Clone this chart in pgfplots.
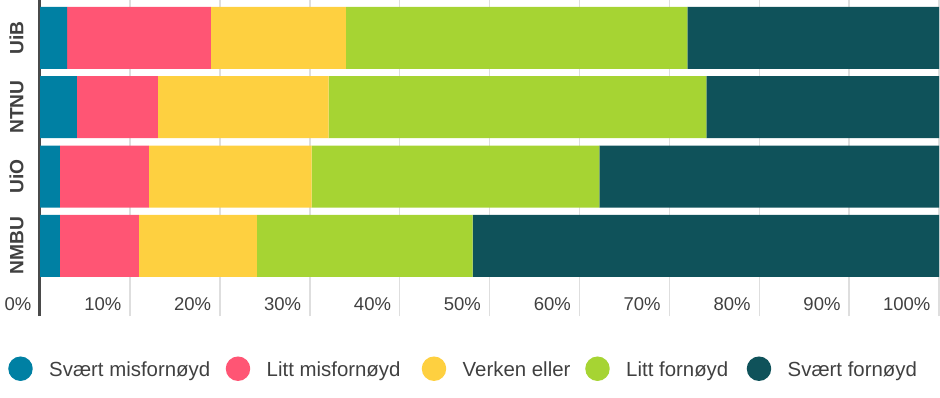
\documentclass[border=0pt]{standalone}
\usepackage{pgfplots}
\pgfplotsset{compat=1.18}
\usepackage{fontspec}
\setmainfont{Liberation Sans}
\definecolor{cA}{HTML}{0080A3}
\definecolor{cB}{HTML}{FF5574}
\definecolor{cC}{HTML}{FED040}
\definecolor{cD}{HTML}{A6D433}
\definecolor{cE}{HTML}{0F525A}
\definecolor{txt}{HTML}{404040}
\definecolor{gridc}{HTML}{DEDEDE}
\definecolor{axc}{HTML}{4A4A4A}
\begin{document}
\begin{tikzpicture}
\useasboundingbox (0,0) rectangle (940pt,397pt);
\begin{axis}[
  at={(39.2pt,81pt)}, anchor=south west,
  scale only axis, width=899.9pt, height=316pt,
  xbar stacked, bar width=62pt,
  xmin=-0.1, xmax=100, ymin=-1.012, ymax=3.546,
  ytick={0,1,2,3}, yticklabels={NMBU,UiO,NTNU,UiB},
  xtick={0,10,20,30,40,50,60,70,80,90,100},
  xticklabels={0\%,10\%,20\%,30\%,40\%,50\%,60\%,70\%,80\%,90\%,100\%},
  axis y line*=left, axis x line*=bottom,
  x axis line style={draw=none},
  y axis line style={-, draw=axc, line width=3pt},
  major tick length=0pt,
  xmajorgrids, major grid style={draw=gridc, line width=1.5pt},
  xticklabel style={font=\fontsize{18.5}{20}\selectfont, text=txt, anchor=base east, inner sep=0pt, xshift=-8.5pt, yshift=5.3pt},
  yticklabel style={font=\fontsize{19.2}{21}\selectfont\bfseries, text=txt, xshift=-15.8pt, rotate=90, anchor=base, inner sep=0pt},
  legend columns=5,
  legend cell align=left,
  legend image code/.code={\fill (12.25pt,1pt) circle[radius=12.25pt];},
  legend style={at={(axis description cs:-0.0344,-0.1668)}, anchor=west, draw=none, fill=none, inner sep=0pt, outer sep=0pt, column sep=0pt, row sep=0pt, nodes={inner sep=0pt, text=txt, font=\fontsize{20.4}{22}\selectfont}},
]
\addplot[fill=cA, draw=none] coordinates {(3.0,3) (4.1,2) (2.2,1) (2.2,0)};
\addlegendentry{\makebox[193pt][l]{\hspace*{16.5pt}Svært misfornøyd}}
\addplot[fill=cB, draw=none] coordinates {(16.0,3) (9.0,2) (9.9,1) (8.8,0)};
\addlegendentry{\makebox[171.5pt][l]{\hspace*{16.5pt}Litt misfornøyd}}
\addplot[fill=cC, draw=none] coordinates {(15.0,3) (19.0,2) (18.1,1) (13.1,0)};
\addlegendentry{\makebox[139pt][l]{\hspace*{16.5pt}Verken eller}}
\addplot[fill=cD, draw=none] coordinates {(38.0,3) (42.0,2) (32.0,1) (24.0,0)};
\addlegendentry{\makebox[137pt][l]{\hspace*{16.5pt}Litt fornøyd}}
\addplot[fill=cE, draw=none] coordinates {(28.0,3) (25.9,2) (37.8,1) (51.9,0)};
\addlegendentry{\makebox[150pt][l]{\hspace*{16.5pt}Svært fornøyd}}
\end{axis}
\end{tikzpicture}
\end{document}
